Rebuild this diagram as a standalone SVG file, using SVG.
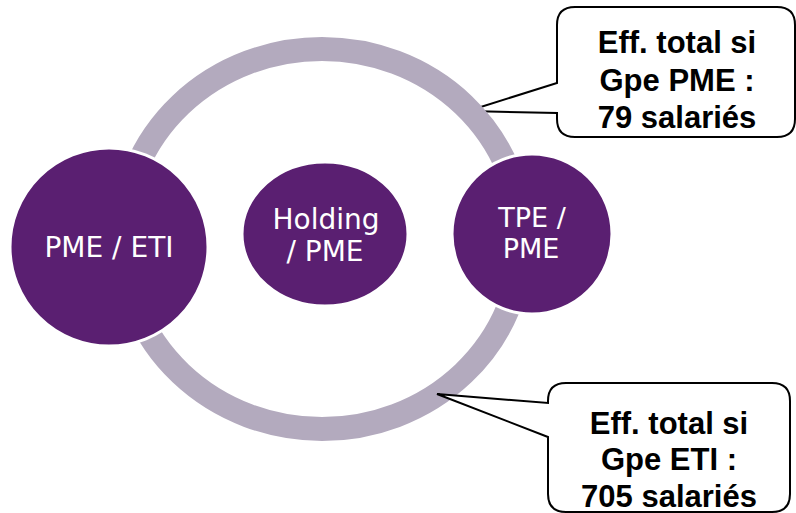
<svg xmlns="http://www.w3.org/2000/svg" width="796" height="513" viewBox="0 0 796 513">
  <style>
    .node { fill: #5a1f71; stroke: #ffffff; stroke-width: 3; }
    .lbl { font-family: "DejaVu Sans", Verdana, sans-serif; font-size: 28px; fill: #ffffff; text-anchor: middle; }
    .lbl2 { font-family: "DejaVu Sans", Verdana, sans-serif; font-size: 27px; fill: #ffffff; text-anchor: middle; }
    .call { fill: #ffffff; stroke: #000000; stroke-width: 2; stroke-linejoin: miter; }
    .ctext { font-family: "Liberation Sans", Arial, sans-serif; font-weight: bold; font-size: 31px; fill: #000000; text-anchor: middle; }
    .ring { fill: none; stroke: #b3aabe; stroke-width: 24; }
  </style>
  <rect width="796" height="513" fill="#ffffff"/>

  <g id="callout-pme">
    <path class="call" d="M 575 7 L 777 7 Q 795 7 795 25 L 795 119 Q 795 137 777 137 L 575 137 Q 557 137 557 119 L 557 113 L 468 111 L 557 83 L 557 25 Q 557 7 575 7 Z"/>
    <text class="ctext" x="677" y="53">Eff. total si</text>
    <text class="ctext" x="677" y="91">Gpe PME :</text>
    <text class="ctext" x="677" y="128">79 salariés</text>
  </g>

  <g id="connectors">
    <ellipse class="ring" cx="322" cy="239" rx="200" ry="190"/>
  </g>

  <g id="node-pme-eti">
    <circle class="node" cx="109" cy="247" r="99"/>
    <text class="lbl" x="109" y="257">PME / ETI</text>
  </g>

  <g id="node-holding">
    <ellipse class="node" cx="325" cy="234" rx="83" ry="72"/>
    <text class="lbl" x="326" y="229">Holding</text>
    <text class="lbl" x="325" y="261">/ PME</text>
  </g>

  <g id="node-tpe">
    <circle class="node" cx="532" cy="234" r="80"/>
    <text class="lbl2" x="532" y="227">TPE /</text>
    <text class="lbl2" x="531" y="258">PME</text>
  </g>

  <g id="callout-eti">
    <path class="call" d="M 566 383 L 772 383 Q 790 383 790 401 L 790 494 Q 790 512 772 512 L 566 512 Q 548 512 548 494 L 548 437 L 437 394 L 548 403 L 548 401 Q 548 383 566 383 Z"/>
    <text class="ctext" x="669" y="434">Eff. total si</text>
    <text class="ctext" x="669" y="470">Gpe ETI :</text>
    <text class="ctext" x="669" y="507">705 salariés</text>
  </g>
</svg>
